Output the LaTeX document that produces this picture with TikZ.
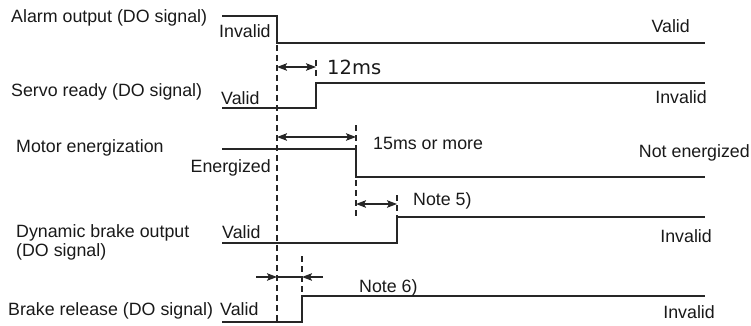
\documentclass[tikz,border=0pt]{standalone}
\usepackage{fontspec}
\setmainfont{Liberation Sans}
\newfontfamily\numfont{DejaVu Sans}
\usetikzlibrary{arrows.meta}
\begin{document}
\begin{tikzpicture}[x=1pt,y=-1pt,
  sig/.style={line width=1.6pt, draw=black!85, line join=miter},
  guide/.style={line width=1.3pt, draw=black!85, dash pattern=on 6pt off 4pt},
  tip/.tip={Stealth[length=10pt,width=7.5pt,inset=2pt]},
  dim/.style={line width=1.3pt, draw=black!85},
  lbl/.style={anchor=base west, inner sep=0pt, text=black!90, font=\fontsize{17.8}{20}\selectfont},
  rlbl/.style={anchor=base east, inner sep=0pt, text=black!90, font=\fontsize{17.8}{20}\selectfont}
]
\useasboundingbox (0,0) rectangle (751,326);

% ---- coordinates of signal edges
\coordinate (aS) at (222,16);  \coordinate (aE) at (277,16);
\coordinate (aL) at (277,43);  \coordinate (aR) at (705,43);
\coordinate (sS) at (222,108); \coordinate (sE) at (316,108);
\coordinate (sH) at (316,83);  \coordinate (sR) at (705,83);
\coordinate (mS) at (222,149); \coordinate (mE) at (356,149);
\coordinate (mL) at (356,177); \coordinate (mR) at (705,177);
\coordinate (dS) at (222,243); \coordinate (dE) at (397,243);
\coordinate (dH) at (397,217); \coordinate (dR) at (705,217);
\coordinate (bS) at (222,322); \coordinate (bE) at (302,322);
\coordinate (bH) at (302,296); \coordinate (bR) at (705,296);

% ---- signals
\draw[sig] (aS) -- (aE) -- (aL) -- (aR);
\draw[sig] (sS) -- (sE) -- (sH) -- (sR);
\draw[sig] (mS) -- (mE) -- (mL) -- (mR);
\draw[sig] (dS) -- (dE) -- (dH) -- (dR);
\draw[sig] (bS) -- (bE) -- (bH) -- (bR);

% ---- guide lines
\coordinate (g1t) at (277,45);  \coordinate (g1b) at (277,324);
\coordinate (g2t) at (316,60);  \coordinate (g2b) at (316,76);
\coordinate (g3t) at (356,125); \coordinate (g3b) at (356,149);
\coordinate (g3c) at (356,180); \coordinate (g3d) at (356,216);
\coordinate (g4t) at (397,195); \coordinate (g4b) at (397,217);
\coordinate (g5t) at (302,256); \coordinate (g5b) at (302,296);
\draw[guide] (g1t) -- (g1b);
\draw[guide] (g2t) -- (g2b);
\draw[guide] (g3t) -- (g3b);
\draw[guide] (g3c) -- (g3d);
\draw[guide] (g4t) -- (g4b);
\draw[guide] (g5t) -- (g5b);

% ---- dimension arrows
\coordinate (d1a) at (277,67);  \coordinate (d1b) at (316,67);
\coordinate (d2a) at (277,137); \coordinate (d2b) at (356,137);
\coordinate (d3a) at (356,204); \coordinate (d3b) at (397,204);
\coordinate (d4a) at (256,277); \coordinate (d4b) at (277,277);
\coordinate (d4c) at (302,277); \coordinate (d4d) at (323,277);
\draw[dim,{tip}-{tip}] (d1a) -- (d1b);
\draw[dim,{tip}-{tip}] (d2a) -- (d2b);
\draw[dim,{tip}-{tip}] (d3a) -- (d3b);
\draw[dim,-{tip}] (d4a) -- (d4b);
\draw[dim] (d4b) -- (d4c);
\draw[dim,-{tip}] (d4d) -- (d4c);

% ---- left labels
\node[lbl] (la) at (11,23) {Alarm output (DO signal)};
\node[lbl] (ls) at (11,97) {Servo ready (DO signal)};
\node[lbl] (lm) at (16,152) {Motor energization};
\node[lbl] (ld) at (16,237) {Dynamic brake output};
\node[lbl] (ld2) at (16,256) {(DO signal)};
\node[lbl] (lb) at (8,315) {Brake release (DO signal)};

% ---- state labels near start
\node[lbl] (ia) at (219,38) {Invalid};
\node[lbl] (vs) at (221,105) {Valid};
\node[rlbl] (em) at (271,172) {Energized};
\node[lbl] (vd) at (222,238) {Valid};
\node[lbl] (vb) at (220,315) {Valid};

% ---- state labels at right
\node[rlbl] (va) at (690,33) {Valid};
\node[rlbl] (is) at (707,103) {Invalid};
\node[rlbl] (nm) at (750,157) {Not energized};
\node[rlbl] (id) at (712,242) {Invalid};
\node[rlbl] (ib) at (715,318) {Invalid};

% ---- timing labels
\node[anchor=base west, inner sep=0pt, text=black!90, font=\numfont\fontsize{19.5}{22}\selectfont] (t12) at (327,75) {12ms};
\node[lbl] (t15) at (373,149) {15ms or more};
\node[lbl] (n5) at (413,205) {Note 5)};
\node[lbl] (n6) at (359,292) {Note 6)};
\end{tikzpicture}
\end{document}
